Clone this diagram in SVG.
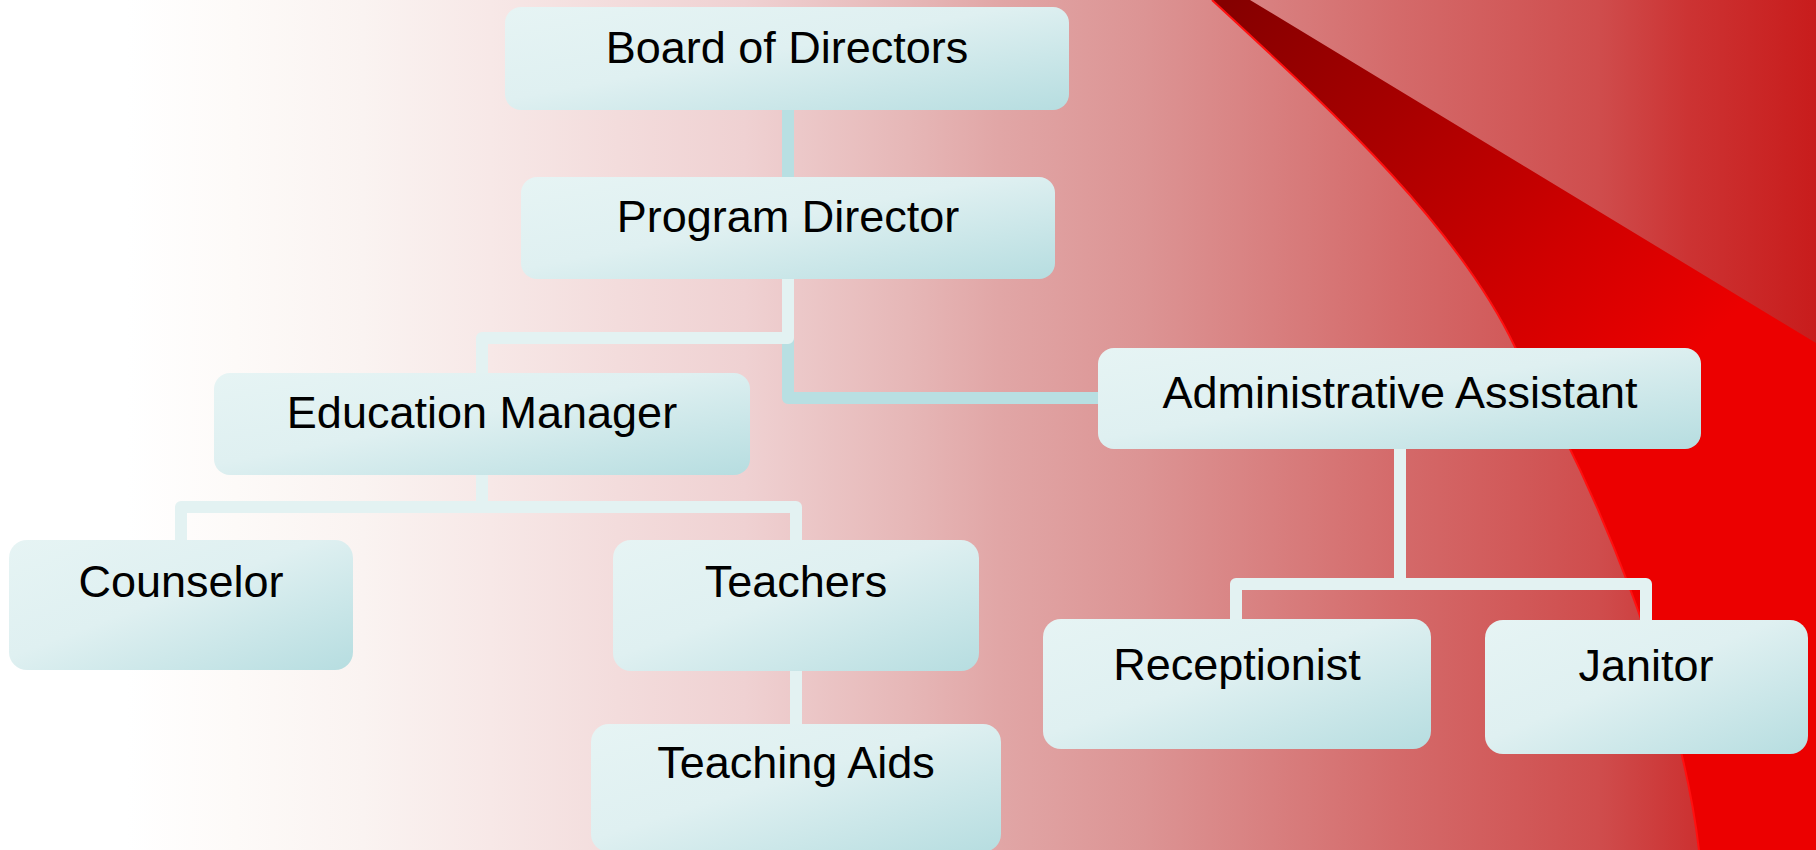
<svg xmlns="http://www.w3.org/2000/svg" width="1816" height="850" viewBox="0 0 1816 850">
<defs>
<linearGradient id="bg" x1="0" y1="0" x2="1816" y2="0" gradientUnits="userSpaceOnUse">
<stop offset="0" stop-color="#ffffff"/>
<stop offset="0.07" stop-color="#ffffff"/>
<stop offset="0.13" stop-color="#fdfaf8"/>
<stop offset="0.20" stop-color="#faf3f1"/>
<stop offset="0.27" stop-color="#f7e8e7"/>
<stop offset="0.34" stop-color="#f3dcdc"/>
<stop offset="0.41" stop-color="#efd1d2"/>
<stop offset="0.50" stop-color="#e6b7b7"/>
<stop offset="0.55" stop-color="#e1a6a6"/>
<stop offset="0.63" stop-color="#dc9494"/>
<stop offset="0.77" stop-color="#d46a6a"/>
<stop offset="0.88" stop-color="#cf4d4d"/>
<stop offset="0.93" stop-color="#cc3333"/>
<stop offset="1" stop-color="#c81c1c"/>
</linearGradient>
<linearGradient id="swoosh" x1="1230" y1="0" x2="1620" y2="420" gradientUnits="userSpaceOnUse">
<stop offset="0" stop-color="#850000"/>
<stop offset="0.35" stop-color="#a80000"/>
<stop offset="0.7" stop-color="#cf0000"/>
<stop offset="1" stop-color="#ec0000"/>
</linearGradient>
<linearGradient id="box" x1="0" y1="0" x2="1" y2="1">
<stop offset="0" stop-color="#e6f4f4"/>
<stop offset="0.45" stop-color="#dff0f1"/>
<stop offset="1" stop-color="#b6dde0"/>
</linearGradient>
</defs>
<style>
.node rect{fill:url(#box)}
.node text{font-family:"Liberation Sans",Arial,sans-serif;font-size:45px;fill:#000;text-anchor:middle}
.conn path{fill:none;stroke-width:12;stroke-linejoin:round}
.teal{stroke:#b8dfe2}
.light{stroke:#e3f2f2}
</style>
<rect x="0" y="0" width="1816" height="850" fill="url(#bg)"/>
<g id="swoosh-bg">
<path d="M1212,0 C1322,102 1455,221 1515,347 C1595,480 1680,690 1699,850 L1816,850 L1816,343 L1250,0 Z" fill="url(#swoosh)"/>
<path d="M1212,0 C1322,102 1455,221 1515,347 C1595,480 1680,690 1699,850" fill="none" stroke="#ff1010" stroke-width="2"/>
</g>
<g id="connectors" class="conn">
<path class="teal" d="M788,110 V177"/>
<path class="teal" d="M788,338 V398 H1098"/>
<path class="light" d="M788,279 V338 H482 V373"/>
<path class="light" d="M482,475 V507"/>
<path class="light" d="M181,540 V507 H796 V540"/>
<path class="light" d="M796,671 V724"/>
<path class="light" d="M1400,448 V584"/>
<path class="light" d="M1236,619 V584 H1646 V621"/>
</g>
<g id="board" class="node"><rect x="505" y="7" width="564" height="103" rx="16"/><text x="787" y="63">Board of Directors</text></g>
<g id="program-director" class="node"><rect x="521" y="177" width="534" height="102" rx="16"/><text x="788" y="232">Program Director</text></g>
<g id="education-manager" class="node"><rect x="214" y="373" width="536" height="102" rx="16"/><text x="482" y="428">Education Manager</text></g>
<g id="administrative-assistant" class="node"><rect x="1098" y="348" width="603" height="101" rx="16"/><text x="1400" y="408">Administrative Assistant</text></g>
<g id="counselor" class="node"><rect x="9" y="540" width="344" height="130" rx="18"/><text x="181" y="597">Counselor</text></g>
<g id="teachers" class="node"><rect x="613" y="540" width="366" height="131" rx="18"/><text x="796" y="597">Teachers</text></g>
<g id="teaching-aids" class="node"><rect x="591" y="724" width="410" height="128" rx="18"/><text x="796" y="778">Teaching Aids</text></g>
<g id="receptionist" class="node"><rect x="1043" y="619" width="388" height="130" rx="18"/><text x="1237" y="680">Receptionist</text></g>
<g id="janitor" class="node"><rect x="1485" y="620" width="323" height="134" rx="18"/><text x="1646" y="681">Janitor</text></g>
</svg>
